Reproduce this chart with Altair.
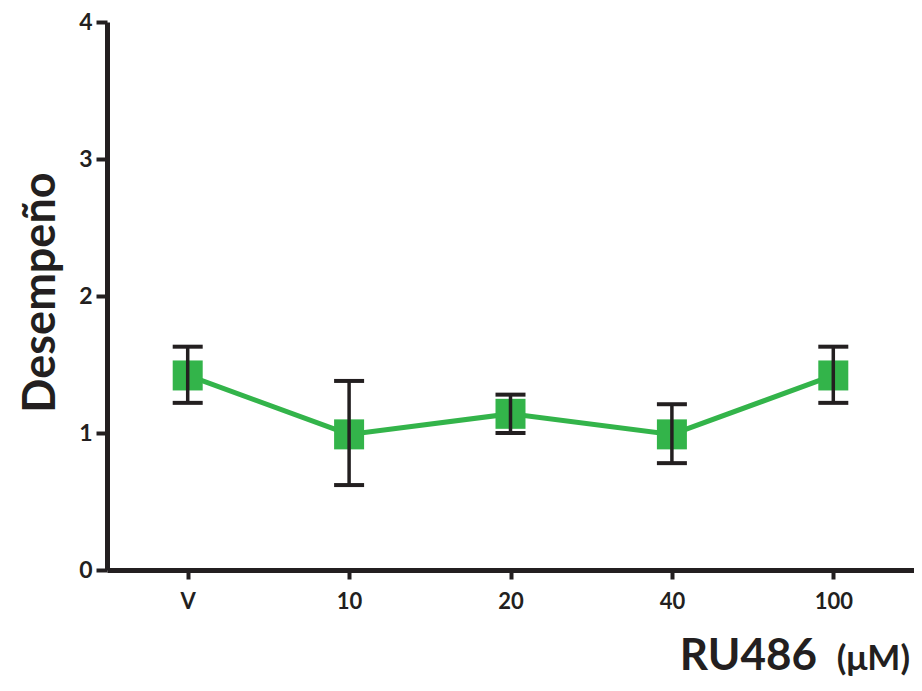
import altair as alt
import pandas as pd

categories = ["V", "10", "20", "40", "100"]
means = [1.42, 0.99, 1.14, 0.99, 1.42]
lower = [1.22, 0.62, 1.00, 0.78, 1.22]
upper = [1.63, 1.38, 1.28, 1.21, 1.63]

df = pd.DataFrame({"cat": categories, "mean": means, "lo": lower, "hi": upper,
                   "order": list(range(len(categories)))})

FONT = "Lato"
DARK = "#231f20"
GREEN = "#33b44a"
W, H = 807, 548

xenc = alt.X("cat:N", sort=categories,
             scale=alt.Scale(type="point", padding=0.5),
             axis=alt.Axis(title=None, labelAngle=0, labelFont=FONT, labelFontWeight="bold",
                           labelFontSize=22, labelColor=DARK, labelPadding=12,
                           domainColor=DARK, domainWidth=5, tickColor=DARK,
                           tickWidth=4, tickSize=9, grid=False))
yscale = alt.Scale(domain=[0, 4], nice=False, zero=True)
yaxis = alt.Axis(values=[0, 1, 2, 3, 4], format="d", title="Desempeño",
                 titleFont=FONT, titleFontSize=45, titleFontWeight="bold", titleColor=DARK,
                 titleAngle=-90, titleX=-67, titleY=270, titleAlign="center",
                 titleBaseline="middle",
                 labelFont=FONT, labelFontWeight="bold", labelFontSize=23, labelColor=DARK,
                 labelPadding=4, domainColor=DARK, domainWidth=5, tickColor=DARK,
                 tickWidth=4, tickSize=11, grid=False)

base = alt.Chart(df)

line = base.mark_line(color=GREEN, strokeWidth=5).encode(
    x=xenc, y=alt.Y("mean:Q", scale=yscale, axis=yaxis), order="order:Q")
pts = base.mark_square(color=GREEN, size=900, opacity=1).encode(
    x=alt.X("cat:N", sort=categories), y=alt.Y("mean:Q"))
err = base.mark_rule(color=DARK, strokeWidth=3.5, opacity=1).encode(
    x=alt.X("cat:N", sort=categories), y=alt.Y("lo:Q"), y2="hi:Q")
cap_lo = base.mark_tick(color=DARK, thickness=4, size=30, opacity=1).encode(
    x=alt.X("cat:N", sort=categories), y=alt.Y("lo:Q"))
cap_hi = base.mark_tick(color=DARK, thickness=4, size=30, opacity=1).encode(
    x=alt.X("cat:N", sort=categories), y=alt.Y("hi:Q"))

t1 = alt.Chart(pd.DataFrame({"t": ["RU486"]})).mark_text(
    font=FONT, fontSize=44, fontWeight="bold", color=DARK, align="right",
    baseline="alphabetic").encode(text="t:N", x=alt.value(710), y=alt.value(648))
t2 = alt.Chart(pd.DataFrame({"t": ["(μM)"]})).mark_text(
    font=FONT, fontSize=35, fontWeight="bold", color=DARK, align="right",
    baseline="alphabetic").encode(text="t:N", x=alt.value(803), y=alt.value(648))

chart = alt.layer(line, pts, err, cap_lo, cap_hi, t1, t2).properties(
    width=W, height=H,
    background="white",
    autosize=alt.AutoSizeParams(type="none"),
    padding={"left": 99, "top": 14, "right": 0, "bottom": 113},
).configure_view(stroke=None, strokeWidth=0).configure_axis(grid=False)

chart.save("out.html", embed_options={"renderer": "svg", "actions": False})
